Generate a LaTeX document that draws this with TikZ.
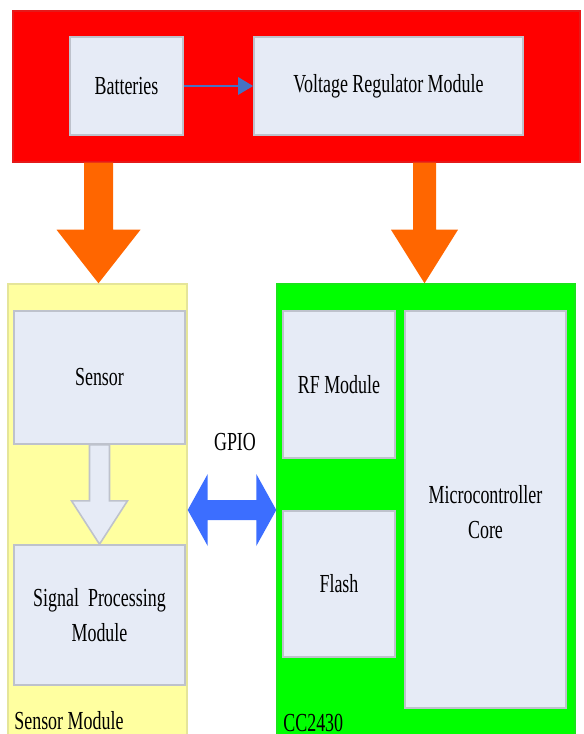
\documentclass[tikz,border=0pt]{standalone}
\usepackage{fontspec}
\newfontfamily\diagfont[FakeStretch=0.69]{Liberation Serif}
\usetikzlibrary{arrows.meta,calc,fit,positioning}
\definecolor{boxfill}{RGB}{230,235,246}
\definecolor{boxline}{RGB}{190,194,204}
\definecolor{powerred}{RGB}{255,0,0}
\definecolor{sensoryellow}{RGB}{255,255,160}
\definecolor{chipgreen}{RGB}{0,255,0}
\definecolor{feedorange}{RGB}{255,102,0}
\definecolor{gpioblue}{RGB}{60,110,255}
\definecolor{linkblue}{RGB}{70,114,196}

\begin{document}
\begin{tikzpicture}[x=0.02cm,y=-0.02cm,
	every node/.style={font=\diagfont\fontsize{14.8}{19.9}\selectfont, inner sep=0pt},
	group/.style={fill=#1, draw=#1!80!gray, line width=0.8pt},
	block/.style={fill=boxfill, draw=boxline, line width=0.9pt},
	words/.style={align=center},
	tag/.style={anchor=base west},
	link/.style={draw=linkblue, line width=1.6pt, -{Triangle[width=0.34cm,length=0.3cm]}},
	feed/.style={fill=feedorange},
	hollow/.style={fill=boxfill, draw=boxline, line width=0.9pt},
	gpio/.style={fill=gpioblue}]
	\useasboundingbox (0,0) rectangle (584,734);

	\node[group=powerred, fit={(13,11) (580,162)}] (power) {};
	\node[group=sensoryellow, fit={(8,284) (187,736)}] (sm) {};
	\node[group=chipgreen, fit={(277,284) (575,736)}] (cc) {};

	\node[block, fit={(70,37) (183,135)}] (bat) {};
	\node[block, fit={(254,37) (523,135)}] (vrm) {};
	\node[block, fit={(14,311) (185,444)}] (sensor) {};
	\node[block, fit={(14,545) (185,685)}] (sigproc) {};
	\node[block, fit={(283,311) (395,458)}] (rf) {};
	\node[block, fit={(283,511) (395,657)}] (flash) {};
	\node[block, fit={(405,311) (566,708)}] (mcu) {};

	\node[words] (battxt) at (bat) {Batteries};
	\node[words] (vrmtxt) at (vrm) {Voltage Regulator Module};
	\node[words] (sensortxt) at (sensor) {Sensor};
	\node[words] (sigproctxt) at (sigproc) {Signal\ \ Processing\\Module};
	\node[words] (rftxt) at (rf) {RF Module};
	\node[words] (flashtxt) at (flash) {Flash};
	\node[words] (mcutxt) at ($(mcu)+(0,3)$) {Microcontroller\\Core};

	\node[tag] (smlbl) at (14,729) {Sensor Module};
	\node[tag] (cclbl) at (283,731) {CC2430};
	\node (gpiolbl) at (235,442) {GPIO};

	\draw[link] (bat.east) -- (vrm.west);

	\coordinate (feedL) at (98.5,0);
	\coordinate (feedR) at (424.5,0);
	\fill[feed] ($(power.south -| feedL)+(-14.5,0)$) -- ++(0,67) -- ++(-27.5,0) -- (sm.north -| feedL)
		-- ($(power.south -| feedL)+(42,67)$) -- ++(-27.5,0) -- ++(0,-67) -- cycle;
	\fill[feed] ($(power.south -| feedR)+(-11.5,0)$) -- ++(0,67) -- ++(-22,0) -- (cc.north -| feedR)
		-- ($(power.south -| feedR)+(33.5,67)$) -- ++(-22,0) -- ++(0,-67) -- cycle;

	\draw[hollow] ($(sensor.south)+(-10,0)$) -- ++(0,56) -- ++(-18,0) -- (sigproc.north)
		-- ($(sensor.south)+(28,56)$) -- ++(-18,0) -- ++(0,-56) -- cycle;

	\fill[gpio] (sm.east) -- ++(20,-36) -- ++(0,26) -- ($(cc.west)+(-20,-10)$) -- ++(0,-26) -- (cc.west)
		-- ++(-20,36) -- ++(0,-26) -- ($(sm.east)+(20,10)$) -- ++(0,26) -- cycle;
\end{tikzpicture}
\end{document}
